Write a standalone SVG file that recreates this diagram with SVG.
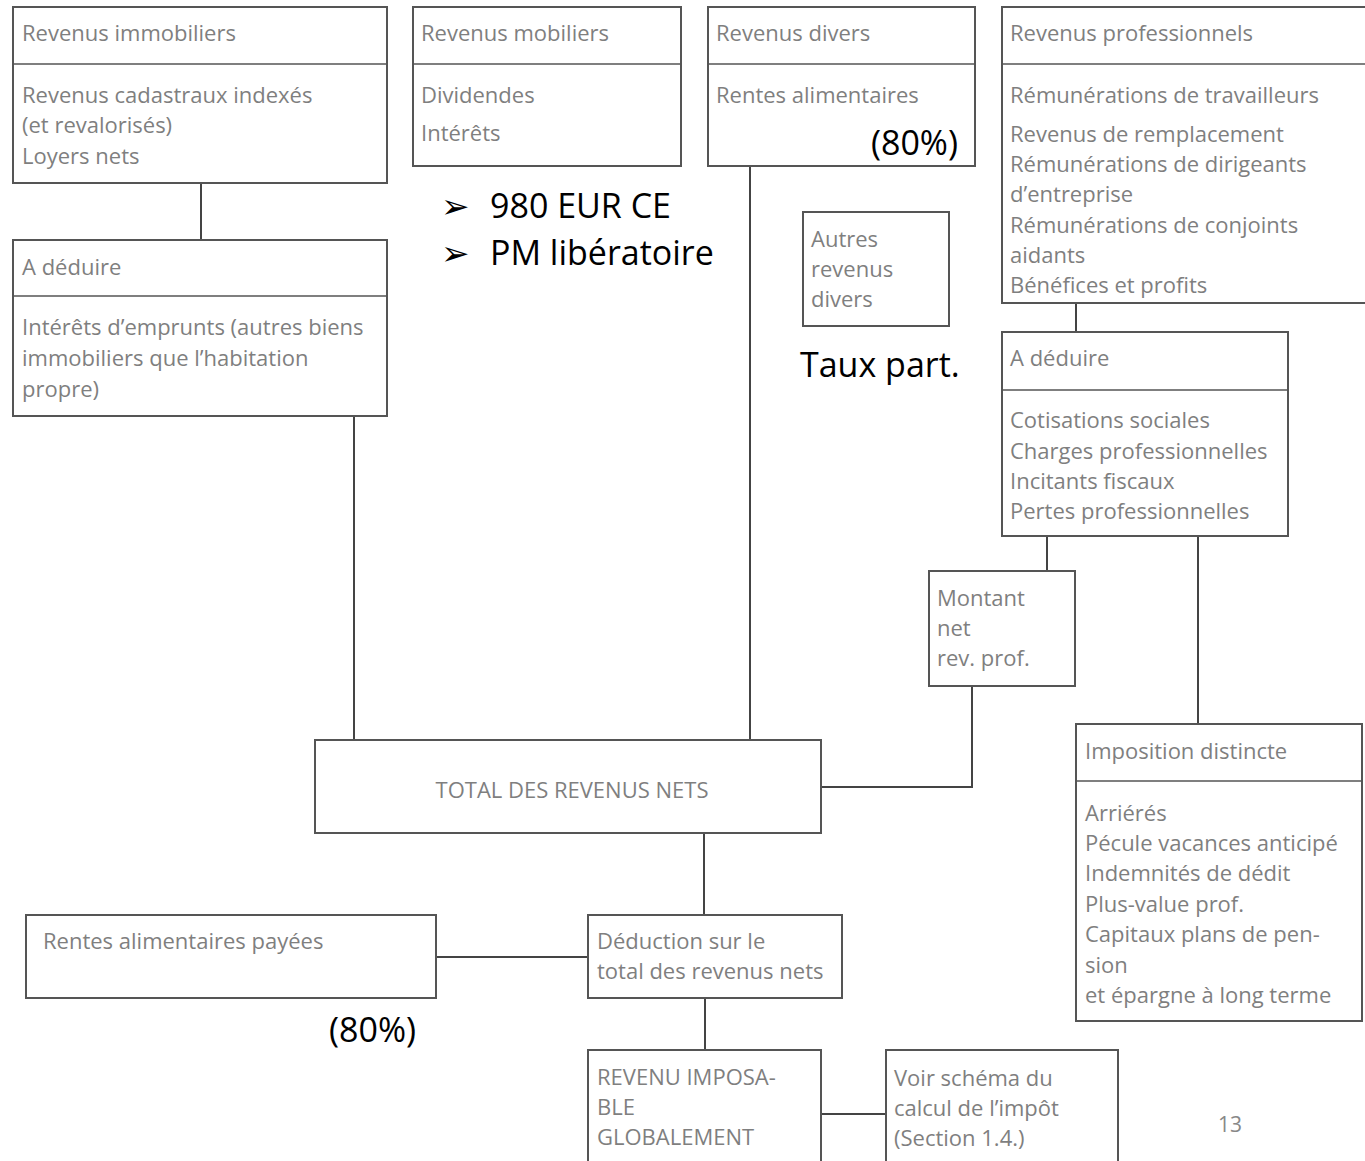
<svg xmlns="http://www.w3.org/2000/svg" width="1365" height="1161" viewBox="0 0 1365 1161">
<style>
.b{fill:#fff;stroke:#555;stroke-width:2}
.d{stroke:#555;stroke-width:1.6;fill:none}
.t{font-family:"Open Sans",sans-serif;font-size:22px;fill:#7f7f7f}
.k{font-family:"Open Sans",sans-serif;font-size:34px;fill:#000}
.a{font-family:"DejaVu Sans",sans-serif;font-size:34px;fill:#000}
.c{stroke:#444;stroke-width:2;fill:none}
</style>
<rect width="1365" height="1161" fill="#fff"/>
<g id="connectors">
<line class="c" x1="201" y1="183" x2="201" y2="240"/>
<line class="c" x1="354" y1="416" x2="354" y2="740"/>
<line class="c" x1="750" y1="166" x2="750" y2="740"/>
<polyline class="c" points="821,787 972,787 972,686"/>
<line class="c" x1="1076" y1="303" x2="1076" y2="332"/>
<line class="c" x1="1047" y1="536" x2="1047" y2="571"/>
<line class="c" x1="1198" y1="536" x2="1198" y2="724"/>
<line class="c" x1="704" y1="833" x2="704" y2="915"/>
<line class="c" x1="436" y1="957" x2="588" y2="957"/>
<line class="c" x1="705" y1="998" x2="705" y2="1050"/>
<line class="c" x1="821" y1="1114" x2="886" y2="1114"/>
</g>
<g id="revenus-immobiliers">
<rect class="b" x="13" y="7" width="374" height="176"/>
<line class="d" x1="13" y1="64" x2="387" y2="64"/>
<text class="t" x="22" y="41">Revenus immobiliers</text>
<text class="t" x="22" y="103">Revenus cadastraux indexés</text>
<text class="t" x="22" y="133">(et revalorisés)</text>
<text class="t" x="22" y="164">Loyers nets</text>
</g>
<g id="a-deduire-1">
<rect class="b" x="13" y="240" width="374" height="176"/>
<line class="d" x1="13" y1="296" x2="387" y2="296"/>
<text class="t" x="22" y="275">A déduire</text>
<text class="t" x="22" y="335">Intérêts d’emprunts (autres biens</text>
<text class="t" x="22" y="366">immobiliers que l’habitation</text>
<text class="t" x="22" y="397">propre)</text>
</g>
<g id="revenus-mobiliers">
<rect class="b" x="413" y="7" width="268" height="159"/>
<line class="d" x1="413" y1="64" x2="681" y2="64"/>
<text class="t" x="421" y="41">Revenus mobiliers</text>
<text class="t" x="421" y="103">Dividendes</text>
<text class="t" x="421" y="141">Intérêts</text>
</g>
<g id="bullets">
<text class="a" x="441" y="218">➢</text>
<text class="k" x="490" y="218">980 EUR CE</text>
<text class="a" x="441" y="265">➢</text>
<text class="k" x="490" y="265">PM libératoire</text>
</g>
<g id="revenus-divers">
<rect class="b" x="708" y="7" width="267" height="159"/>
<line class="d" x1="708" y1="64" x2="975" y2="64"/>
<text class="t" x="716" y="41">Revenus divers</text>
<text class="t" x="716" y="103">Rentes alimentaires</text>
<text class="k" x="958" y="155" text-anchor="end">(80%)</text>
</g>
<g id="autres-revenus-divers">
<rect class="b" x="803" y="212" width="146" height="114"/>
<text class="t" x="811" y="247">Autres</text>
<text class="t" x="811" y="277">revenus</text>
<text class="t" x="811" y="307">divers</text>
</g>
<text class="k" x="800" y="377">Taux part.</text>
<g id="revenus-professionnels">
<rect class="b" x="1002" y="7" width="366" height="296"/>
<line class="d" x1="1002" y1="64" x2="1365" y2="64"/>
<text class="t" x="1010" y="41">Revenus professionnels</text>
<text class="t" x="1010" y="103">Rémunérations de travailleurs</text>
<text class="t" x="1010" y="142">Revenus de remplacement</text>
<text class="t" x="1010" y="172">Rémunérations de dirigeants</text>
<text class="t" x="1010" y="202">d’entreprise</text>
<text class="t" x="1010" y="233">Rémunérations de conjoints</text>
<text class="t" x="1010" y="263">aidants</text>
<text class="t" x="1010" y="293">Bénéfices et profits</text>
</g>
<g id="a-deduire-2">
<rect class="b" x="1002" y="332" width="286" height="204"/>
<line class="d" x1="1002" y1="390" x2="1288" y2="390"/>
<text class="t" x="1010" y="366">A déduire</text>
<text class="t" x="1010" y="428">Cotisations sociales</text>
<text class="t" x="1010" y="459">Charges professionnelles</text>
<text class="t" x="1010" y="489">Incitants fiscaux</text>
<text class="t" x="1010" y="519">Pertes professionnelles</text>
</g>
<g id="montant-net">
<rect class="b" x="929" y="571" width="146" height="115"/>
<text class="t" x="937" y="606">Montant</text>
<text class="t" x="937" y="636">net</text>
<text class="t" x="937" y="666">rev. prof.</text>
</g>
<g id="imposition-distincte">
<rect class="b" x="1076" y="724" width="286" height="297"/>
<line class="d" x1="1076" y1="781" x2="1362" y2="781"/>
<text class="t" x="1085" y="759">Imposition distincte</text>
<text class="t" x="1085" y="821">Arriérés</text>
<text class="t" x="1085" y="851">Pécule vacances anticipé</text>
<text class="t" x="1085" y="881">Indemnités de dédit</text>
<text class="t" x="1085" y="912">Plus-value prof.</text>
<text class="t" x="1085" y="942">Capitaux plans de pen-</text>
<text class="t" x="1085" y="973">sion</text>
<text class="t" x="1085" y="1003">et épargne à long terme</text>
</g>
<g id="total">
<rect class="b" x="315" y="740" width="506" height="93"/>
<text class="t" x="572" y="798" text-anchor="middle">TOTAL DES REVENUS NETS</text>
</g>
<g id="rentes-payees">
<rect class="b" x="26" y="915" width="410" height="83"/>
<text class="t" x="43" y="949">Rentes alimentaires payées</text>
</g>
<text class="k" x="329" y="1042">(80%)</text>
<g id="deduction">
<rect class="b" x="588" y="915" width="254" height="83"/>
<text class="t" x="597" y="949">Déduction sur le</text>
<text class="t" x="597" y="979">total des revenus nets</text>
</g>
<g id="revenu-imposable">
<rect class="b" x="588" y="1050" width="233" height="130"/>
<text class="t" x="597" y="1085">REVENU IMPOSA-</text>
<text class="t" x="597" y="1115">BLE</text>
<text class="t" x="597" y="1145">GLOBALEMENT</text>
</g>
<g id="voir-schema">
<rect class="b" x="886" y="1050" width="232" height="130"/>
<text class="t" x="894" y="1086">Voir schéma du</text>
<text class="t" x="894" y="1116">calcul de l’impôt</text>
<text class="t" x="894" y="1146">(Section 1.4.)</text>
</g>
<text x="1230" y="1132" text-anchor="middle" font-family="Open Sans, sans-serif" font-size="21" fill="#888">13</text>
</svg>
